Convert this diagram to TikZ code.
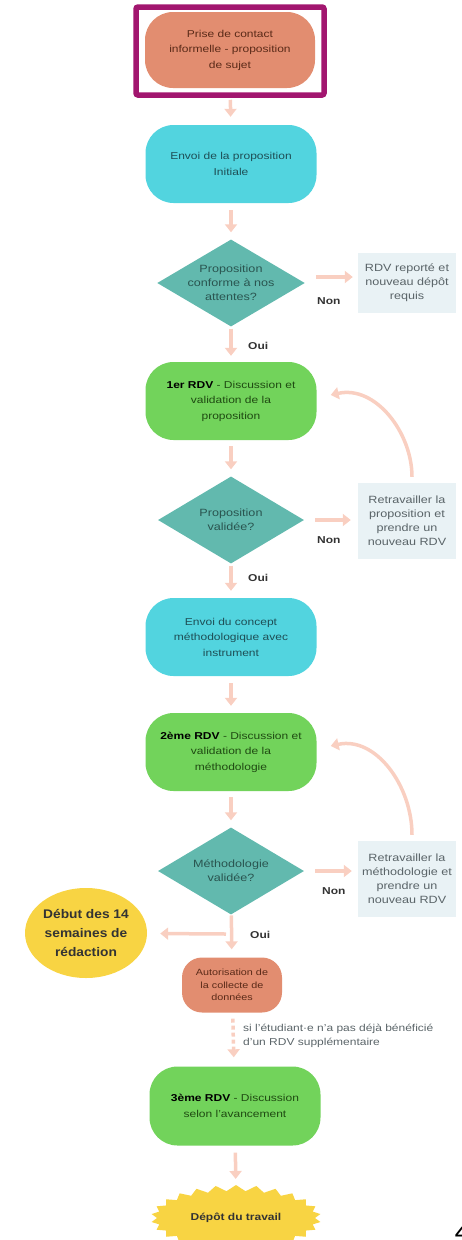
\documentclass[tikz,border=0pt]{standalone}
\usepackage{fontspec}
\setmainfont[FakeStretch=1.2]{Liberation Sans}
\newfontfamily\ellfont[FakeStretch=1.1]{Liberation Sans}
\usetikzlibrary{arrows.meta,shapes.geometric,shapes.symbols}
\definecolor{salmon}{HTML}{E28D70}
\definecolor{cyanbox}{HTML}{52D4DF}
\definecolor{tealdia}{HTML}{62B9AE}
\definecolor{greenbox}{HTML}{72D35B}
\definecolor{yellowbox}{HTML}{F8D443}
\definecolor{lightbox}{HTML}{E9F2F5}
\definecolor{arrowpink}{HTML}{F9CFC1}
\definecolor{framepurple}{HTML}{A2166F}
\definecolor{txtcyan}{HTML}{1E4E55}
\definecolor{txtgreen}{HTML}{1F4A12}
\definecolor{txtsalmon}{HTML}{5A2A18}
\definecolor{txtteal}{HTML}{2A5550}
\definecolor{txtbox}{HTML}{5A6468}
\tikzset{
  pill/.style={rectangle, rounded corners=28pt, minimum width=171pt, minimum height=78pt,
    align=center, inner sep=2pt, font=\fontsize{10}{15.5}\selectfont},
  decision/.style={diamond, fill=tealdia, aspect=1.7, inner sep=0pt, minimum width=146pt,
    minimum height=87pt, align=center, text=txtteal, font=\fontsize{10.5}{14}\selectfont},
  sidebox/.style={rectangle, fill=lightbox, minimum width=98pt, align=center, text=txtbox,
    font=\fontsize{10.5}{14}\selectfont},
  flow/.style={draw=arrowpink, line width=3.5pt, -{Triangle[width=12pt,length=8pt]}},
  lbl/.style={font=\bfseries\fontsize{10}{12}\selectfont, text=black!80, inner sep=0pt},
}
\begin{document}
\begin{tikzpicture}[x=1pt,y=-1pt]
\useasboundingbox (0,0) rectangle (462,1240);
% nodes
\node[pill, fill=salmon, text=txtsalmon, minimum width=170pt, minimum height=76pt] (n1) at (230,50)
  {Prise de contact\\informelle - proposition\\de sujet};
\node[draw=framepurple, line width=5.5pt, rounded corners=2pt, minimum width=188pt, minimum height=88pt] (frame) at (230,51) {};
\node[pill, fill=cyanbox, text=txtcyan] (n2) at (231,164) {Envoi de la proposition\\Initiale};
\node[decision] (d1) at (231,283) {Proposition\\conforme à nos\\attentes?};
\node[sidebox, minimum height=60pt] (b1) at (407,283) {RDV reporté et\\nouveau dépôt\\requis};
\node[pill, fill=greenbox, text=txtgreen] (n3) at (231,401) {\textbf{\color{black}1er RDV} - Discussion et\\validation de la\\proposition};
\node[decision] (d2) at (231,520) {Proposition\\validée?};
\node[sidebox, minimum height=76pt] (b2) at (407,521) {Retravailler la\\proposition et\\prendre un\\nouveau RDV};
\node[pill, fill=cyanbox, text=txtcyan] (n4) at (231,637) {Envoi du concept\\méthodologique avec\\instrument};
\node[pill, fill=greenbox, text=txtgreen] (n5) at (231,752) {\textbf{\color{black}2ème RDV} - Discussion et\\validation de la\\méthodologie};
\node[decision] (d3) at (231,871) {Méthodologie\\validée?};
\node[sidebox, minimum height=76pt] (b3) at (407,879) {Retravailler la\\méthodologie et\\prendre un\\nouveau RDV};
\node[ellipse, fill=yellowbox, minimum width=122pt, minimum height=90pt, align=center, inner sep=0pt,
  font=\ellfont\bfseries\fontsize{12.5}{19}\selectfont, text=black!80] (ell) at (86,933)
  {Début des 14\\semaines de\\rédaction};
\node[rectangle, rounded corners=20pt, fill=salmon, text=txtsalmon, minimum width=100pt, minimum height=55pt,
  align=center, inner sep=1pt, font=\fontsize{9}{12.5}\selectfont] (n6) at (232,985)
  {Autorisation de\\la collecte de\\données};
\node[pill, fill=greenbox, text=txtgreen, minimum height=79pt] (n7) at (235,1106) {\textbf{\color{black}3ème RDV} - Discussion\\selon l'avancement};
\node[starburst, fill=yellowbox, minimum width=170pt, minimum height=66pt, starburst points=26,
  starburst point height=6pt, random starburst=0, inner sep=0pt,
  font=\bfseries\fontsize{10}{12}\selectfont, text=black!80] (star) at (236,1218) {Dépôt du travail};
\node[anchor=north west, inner sep=0pt, font=\bfseries\fontsize{18}{18}\selectfont] (pg) at (455,1227) {4};
% labels
\node[lbl, anchor=west] (non1) at (317,301) {Non};
\node[lbl, anchor=west] (oui1) at (248,346) {Oui};
\node[lbl, anchor=west] (non2) at (317,540) {Non};
\node[lbl, anchor=west] (oui2) at (248,578) {Oui};
\node[lbl, anchor=west] (non3) at (322,891) {Non};
\node[lbl, anchor=west] (oui3) at (250,935) {Oui};
\node[anchor=west, align=left, inner sep=0pt, text=txtbox, font=\fontsize{10}{14.5}\selectfont] (note) at (243,1036)
  {si l'étudiant·e n'a pas déjà bénéficié\\d'un RDV supplémentaire};
% connectors
\draw[flow, shorten <=2pt, shorten >=8pt] (frame) -- (n2);
\draw[flow, shorten <=7pt, shorten >=7pt] (n2) -- (d1);
\draw[flow, shorten <=2pt, shorten >=6pt] (d1) -- (n3);
\draw[flow, shorten <=6pt, shorten >=7pt] (n3) -- (d2);
\draw[flow, shorten <=2pt, shorten >=7pt] (d2) -- (n4);
\draw[flow, shorten <=7pt, shorten >=7pt] (n4) -- (n5);
\draw[flow, shorten <=6pt, shorten >=7pt] (n5) -- (d3);
\draw[flow, shorten <=1pt, shorten >=8pt] (d3) -- (n6);
\coordinate (split) at (226,934);
\draw[flow, shorten >=13pt] (split) -- (ell);
\draw[flow, dash pattern=on 4pt off 3pt, shorten <=6pt, shorten >=9pt] (n6) -- (n7);
\draw[flow, shorten <=7pt, shorten >=6pt] (n7) -- (star);
\draw[flow, shorten <=11pt, shorten >=5pt] ([yshift=6pt]d1.east) -- ([yshift=6pt]d1.east -| b1.west);
\draw[flow, shorten <=11pt, shorten >=7pt] (d2.east) -- (d2.east -| b2.west);
\draw[flow, shorten <=11pt, shorten >=6pt] (d3.east) -- (d3.east -| b3.west);
\draw[flow, shorten <=6pt] ([xshift=5pt]b2.north) .. controls +(0,-50) and +(45,-10) .. ([xshift=14pt,yshift=6pt]n3.east);
\draw[flow, shorten <=6pt] ([xshift=5pt]b3.north) .. controls +(0,-55) and +(45,-10) .. ([xshift=14pt,yshift=6pt]n5.east);
\end{tikzpicture}
\end{document}
